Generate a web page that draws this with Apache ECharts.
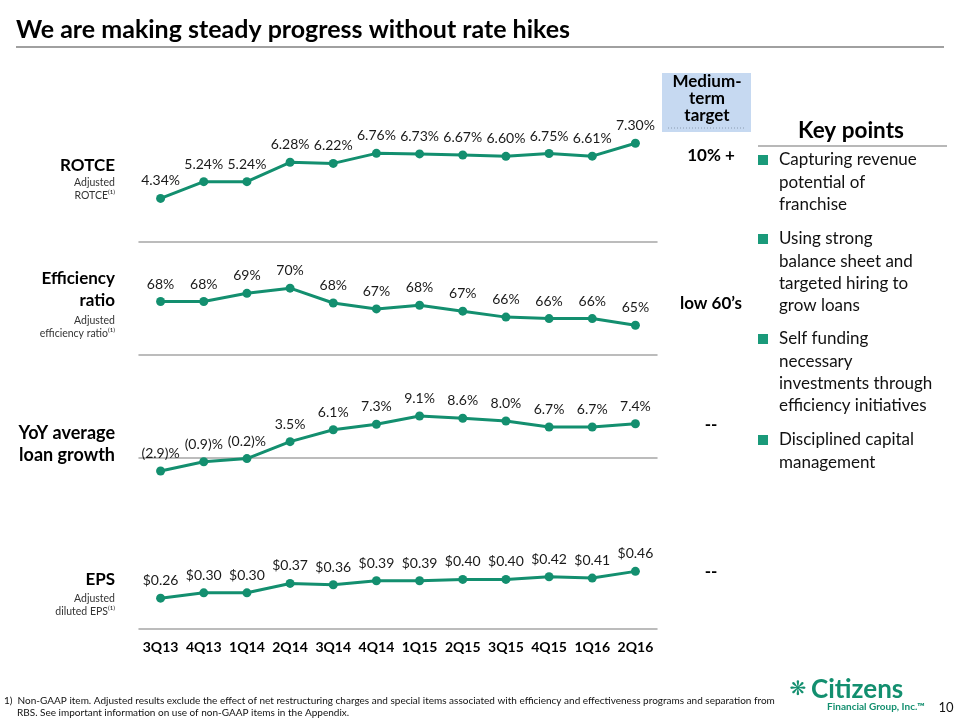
<!DOCTYPE html>
<html>
<head>
<meta charset="utf-8">
<script src="https://cdn.jsdelivr.net/npm/echarts@6/dist/echarts.min.js"></script>
<style>html,body{margin:0;padding:0;background:#fff}#c{width:960px;height:720px}</style>
</head>
<body>
<div id="c"></div>
<script>
const categories = ['3Q13','4Q13','1Q14','2Q14','3Q14','4Q14','1Q15','2Q15','3Q15','4Q15','1Q16','2Q16'];
const rotce = [4.34,5.24,5.24,6.28,6.22,6.76,6.73,6.67,6.60,6.75,6.61,7.30];
const efficiency = [68.2,68.2,69.3,70.0,68.0,67.2,67.7,66.9,66.1,65.9,65.9,65.0];
const loanGrowth = [-2.9,-0.9,-0.2,3.5,6.1,7.3,9.1,8.6,8.0,6.7,6.7,7.4];
const eps = [0.26,0.30,0.30,0.37,0.36,0.39,0.39,0.40,0.40,0.42,0.41,0.46];
const targets = ['10% +','low 60\u2019s','--','--'];
const keyPoints = [
  ['Capturing revenue','potential of','franchise'],
  ['Using strong','balance sheet and','targeted hiring to','grow loans'],
  ['Self funding','necessary','investments through','efficiency initiatives'],
  ['Disciplined capital','management']
];

const GREEN = '#138f6f';
const FONT = 'Lato, "Open Sans", sans-serif';
const chart = echarts.init(document.getElementById('c'));

const grids = [
  {left:139, width:518, top:93, height:149},
  {left:139, width:518, top:251, height:104},
  {left:139, width:518, top:366, height:137.5},
  {left:139, width:518, top:566, height:63}
];
const yRanges = [[2,10],[61,75],[-10,20],[0.03,0.5]];
const seriesData = [rotce, efficiency, loanGrowth, eps];
const fmts = [
  v => v.toFixed(2) + '%',
  v => Math.round(v) + '%',
  v => v < 0 ? '(' + Math.abs(v).toFixed(1) + ')%' : v.toFixed(1) + '%',
  v => '$' + v.toFixed(2)
];

const xAxes = grids.map((g,i) => ({
  type:'category', gridIndex:i, data:categories, boundaryGap:true,
  axisLine:{show:true, onZero:true, lineStyle:{color:'#a6a6a6', width:1.5}},
  axisTick:{show:false},
  axisLabel:{show:i===3, interval:0, color:'#000', fontFamily:FONT, fontWeight:'bold', fontSize:14, margin:11}
}));
const yAxes = grids.map((g,i) => ({
  type:'value', gridIndex:i, min:yRanges[i][0], max:yRanges[i][1],
  show:false, splitLine:{show:false}
}));
const series = seriesData.map((d,i) => ({
  type:'line', xAxisIndex:i, yAxisIndex:i, data:d,
  symbol:'circle', symbolSize:9,
  lineStyle:{color:GREEN, width:3}, itemStyle:{color:GREEN},
  label:{show:true, position:'top', distance:6, color:'#1a1a1a', fontFamily:FONT, fontSize:14,
    formatter:p => fmts[i](p.value)},
  animation:false
}));

const T = (x,y,text,opt) => Object.assign({type:'text', x, y, style:Object.assign({
  text, fill:'#000', fontFamily:FONT, fontSize:14, textAlign:'left', textVerticalAlign:'middle'}, opt||{})});

const graphic = [];
// title
graphic.push(T(16,30,'We are making steady progress without rate hikes',{fontSize:25, fontWeight:'bold'}));
graphic.push({type:'line', shape:{x1:16,y1:47,x2:944,y2:47}, style:{stroke:'#a0a0a0', lineWidth:2}});
// left panel labels
const L = (y,text,size,bold) => graphic.push(T(115,y,text,{textAlign:'right', fontSize:size, fontWeight:bold?'bold':'normal', fill:bold?'#000':'#333'}));
L(166,'ROTCE',17,true); L(183,'Adjusted',10.5); L(196,'ROTCE\u207d\u00b9\u207e',10.5);
L(279,'Efficiency',17,true); L(301,'ratio',17,true); L(321,'Adjusted',10.5); L(334,'efficiency ratio\u207d\u00b9\u207e',10.5);
L(433,'YoY average',18,true); L(455,'loan growth',18,true);
L(580,'EPS',17,true); L(599,'Adjusted',10.5); L(612,'diluted EPS\u207d\u00b9\u207e',10.5);
// medium-term target box
graphic.push({type:'rect', shape:{x:662,y:73,width:89,height:59}, style:{fill:'#c6d9f1'}});
graphic.push({type:'line', shape:{x1:668,y1:128,x2:745,y2:128}, style:{stroke:'#8a9bb0', lineWidth:1, lineDash:[1,2]}});
graphic.push(T(707,82,'Medium-',{textAlign:'center', fontWeight:'bold', fontSize:17}));
graphic.push(T(707,99,'term',{textAlign:'center', fontWeight:'bold', fontSize:17}));
graphic.push(T(707,116,'target',{textAlign:'center', fontWeight:'bold', fontSize:17}));
const tY = [156,304,425,572];
targets.forEach((t,i) => graphic.push(T(711,tY[i],t,{textAlign:'center', fontWeight:'bold', fontSize:17})));
// key points
graphic.push(T(851,131,'Key points',{textAlign:'center', fontWeight:'bold', fontSize:22.5}));
graphic.push({type:'line', shape:{x1:758,y1:146,x2:947,y2:146}, style:{stroke:'#a0a0a0', lineWidth:1.5}});
const kpStart = [160,239,339,440];
keyPoints.forEach((lines,i) => {
  graphic.push({type:'rect', shape:{x:758,y:kpStart[i]-5,width:10,height:10}, style:{fill:'#1a9a7a'}});
  lines.forEach((ln,j) => graphic.push(T(779,kpStart[i]+j*22.3,ln,{fontSize:17, fill:'#111'})));
});
// footnote
graphic.push(T(4,701,'1)  Non-GAAP item. Adjusted results exclude the effect of net restructuring charges and special items associated with efficiency and effectiveness programs and separation from',{fontSize:10, fill:'#111'}));
graphic.push(T(17,713,'RBS. See important information on use of non-GAAP items in the Appendix.',{fontSize:10, fill:'#111'}));
// logo
graphic.push(T(798,690,'\u274b',{textAlign:'center', fontSize:20, fill:'#138f6f', fontFamily:'DejaVu Sans'}));
graphic.push(T(811,690,'Citizens',{fontSize:26, fontWeight:'bold', fill:'#138f6f'}));
graphic.push(T(876,707,'Financial Group, Inc.\u2122',{textAlign:'center', fontSize:10, fontWeight:'bold', fill:'#138f6f'}));
graphic.push(T(946,708,'10',{textAlign:'center', fontSize:13, fill:'#111'}));

chart.setOption({
  animation:false,
  backgroundColor:'#fff',
  textStyle:{fontFamily:FONT},
  grid:grids,
  xAxis:xAxes,
  yAxis:yAxes,
  series:series,
  graphic:graphic
});
</script>
</body>
</html>
